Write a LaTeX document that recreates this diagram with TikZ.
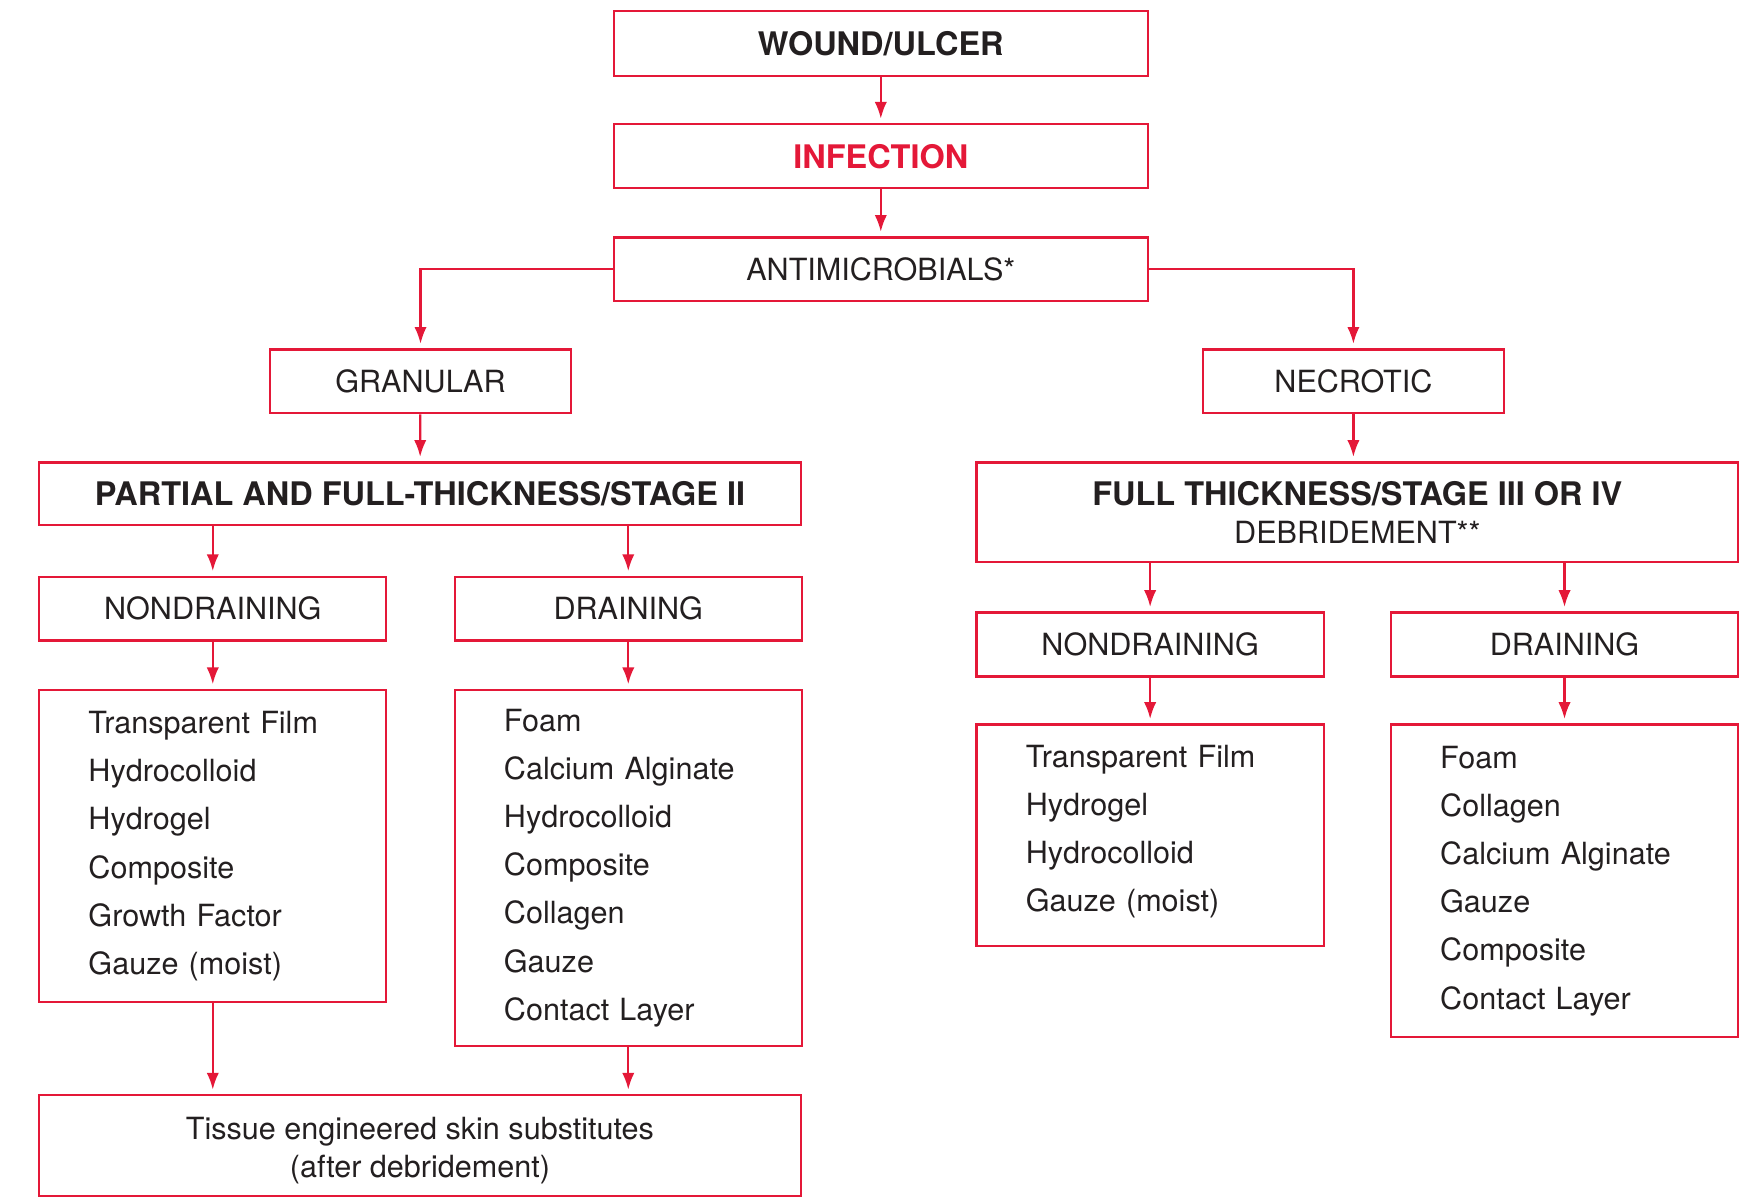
\documentclass[tikz,border=0pt]{standalone}
\usepackage{fontspec}
\setmainfont{TeX Gyre Heros}
\usetikzlibrary{arrows.meta}
\definecolor{wred}{RGB}{228,24,56}
\definecolor{wtext}{RGB}{35,31,32}
\begin{document}
\begin{tikzpicture}[x=1pt,y=-1pt,
  box/.style={draw=wred,line width=2pt,rectangle,inner sep=0pt,text=wtext,
    font=\fontsize{27.3}{34}\selectfont,align=center},
  bold/.style={font=\fontsize{29}{34}\selectfont\bfseries},
  listbox/.style={box,align=left,inner xsep=44pt,inner ysep=0pt,text width=222pt,
    font=\fontsize{27.3}{43}\selectfont},
  arr/.style={draw=wred,line width=2pt,-{Latex[length=15pt,width=11pt]},shorten >=4pt}
]
\useasboundingbox (0,0) rectangle (1568,1071.4);
% top chain
\node[box,bold,minimum width=477pt,minimum height=58pt] (w) at (786.5,39) {WOUND/ULCER};
\node[box,bold,text=wred,minimum width=477pt,minimum height=57pt] (inf) at (786.5,139.5) {INFECTION};
\node[box,minimum width=477pt,minimum height=57pt] (anti) at (786.5,240.5) {ANTIMICROBIALS*};
\node[box,minimum width=269pt,minimum height=57pt] (gran) at (375.5,340.5) {GRANULAR};
\node[box,minimum width=269pt,minimum height=57pt] (necr) at (1208.5,340.5) {NECROTIC};
% stage boxes
\node[box,bold,minimum width=680pt,minimum height=56pt] (part) at (375,441) {PARTIAL AND FULL-THICKNESS/STAGE II};
\node[box,minimum width=680pt,minimum height=89pt] (full) at (1212,457.5)
  {{\fontsize{29}{34}\selectfont\bfseries FULL THICKNESS/STAGE III OR IV}\\DEBRIDEMENT**};
% left branch
\node[box,minimum width=310pt,minimum height=57pt] (ndL) at (190,543.5) {NONDRAINING};
\node[box,minimum width=310pt,minimum height=57pt] (dL) at (561,543.5) {DRAINING};
\node[listbox,minimum width=310pt,minimum height=279pt] (lNL) at (190,755.5)
  {Transparent Film\\Hydrocolloid\\Hydrogel\\Composite\\Growth Factor\\Gauze (moist)};
\node[listbox,minimum width=310pt,minimum height=318pt] (lDL) at (561,775)
  {Foam\\Calcium Alginate\\Hydrocolloid\\Composite\\Collagen\\Gauze\\Contact Layer};
\node[box,minimum width=680pt,minimum height=90pt] (bot) at (375,1023)
  {\rule{0pt}{28pt}Tissue engineered skin substitutes\\(after debridement)};
% right branch
\node[box,minimum width=310pt,minimum height=57pt] (ndR) at (1027,575.5) {NONDRAINING};
\node[box,minimum width=310pt,minimum height=57pt] (dR) at (1397,575.5) {DRAINING};
\node[listbox,minimum width=310pt,minimum height=198pt] (lNR) at (1027,746)
  {Transparent Film\\Hydrogel\\Hydrocolloid\\Gauze (moist)\rule[-13pt]{0pt}{1pt}};
\node[listbox,minimum width=310pt,minimum height=279pt] (lDR) at (1397,786.5)
  {Foam\\Collagen\\Calcium Alginate\\Gauze\\Composite\\Contact Layer};
% connectors
\draw[arr] (w) -- (inf);
\draw[arr] (inf) -- (anti);
\draw[arr] (anti.west) -| (gran.north);
\draw[arr] (anti.east) -| (necr.north);
\draw[arr] (gran) -- (part);
\draw[arr] (necr) -- (necr.south |- full.north);
\draw[arr] (ndL.north |- part.south) -- (ndL.north);
\draw[arr] (dL.north |- part.south) -- (dL.north);
\draw[arr] (ndL) -- (lNL);
\draw[arr] (dL) -- (lDL);
\draw[arr] (lNL.south) -- (lNL.south |- bot.north);
\draw[arr] (lDL.south) -- (lDL.south |- bot.north);
\draw[arr] (ndR.north |- full.south) -- (ndR.north);
\draw[arr] (dR.north |- full.south) -- (dR.north);
\draw[arr] (ndR) -- (lNR);
\draw[arr] (dR) -- (lDR);
\end{tikzpicture}
\end{document}
